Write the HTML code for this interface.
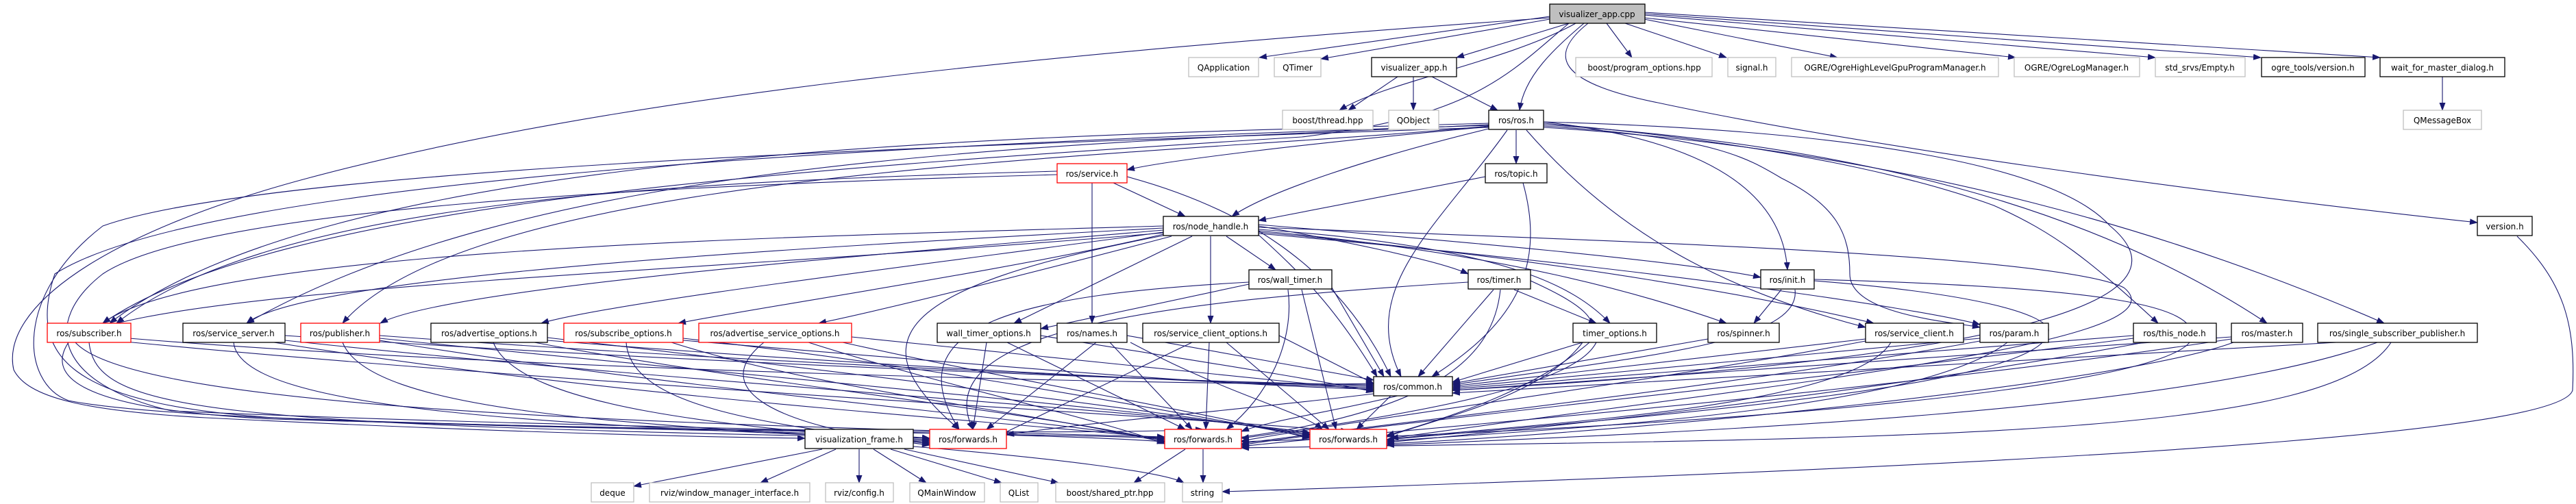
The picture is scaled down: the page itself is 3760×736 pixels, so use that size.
<!DOCTYPE html>
<html><head><meta charset="utf-8"><style>
html,body{margin:0;padding:0;background:#fff;}
svg{display:block;}
text{font-family:"DejaVu Sans","Liberation Sans",sans-serif;font-size:12px;fill:#000;text-anchor:middle;}
.e{fill:none;stroke:#191970;stroke-width:1.1;}
.b{fill:#fff;stroke:#000;stroke-width:1.3;}
.g{fill:#fff;stroke:#bfbfbf;stroke-width:1.3;}
.r{fill:#fff;stroke:#ff0000;stroke-width:1.3;}
</style></head><body>
<svg width="3760" height="736" viewBox="0 0 3760 736" xmlns="http://www.w3.org/2000/svg">
<defs><marker id="a" markerWidth="12" markerHeight="9" refX="11" refY="4.5" orient="auto" markerUnits="userSpaceOnUse"><polygon points="0,0 12,4.5 0,9" fill="#191970"/></marker></defs>
<g class="e" marker-end="url(#a)">
<!-- from visualizer_app.cpp -->
<path d="M2262,24 L1838,84"/>
<path d="M2262,28 L1928,86"/>
<path d="M2290,34 L2126,84"/>
<path d="M2300,34 C2200,90 2020,120 1955,161"/>
<path d="M2312,34 C2270,70 2225,110 2218,161"/>
<path d="M2345,34 L2382,84"/>
<path d="M2372,34 L2520,84"/>
<path d="M2400,28 L2682,84"/>
<path d="M2400,26 L2942,84"/>
<path d="M2400,22 L3146,84"/>
<path d="M2400,20 L3300,84"/>
<path d="M2400,18 L3474,84"/>
<path d="M2318,34 C2260,80 2270,120 2420,150 C2700,210 3200,280 3616,325"/>
<path d="M2262,26 C1500,80 900,140 450,260 C150,340 0,450 20,540 C40,580 120,600 300,610 C700,630 1000,638 1175,640"/>
<path d="M2290,34 C2200,110 2150,170 1900,200 C1100,250 400,300 150,472"/>
<!-- visualizer_app.h -->
<path d="M2040,112 L1968,161"/>
<path d="M2063,112 L2063,161"/>
<path d="M2090,112 L2186,161"/>
<path d="M3565,112 L3565,161"/>
<!-- ros.h -->
<path d="M2213,190 L2213,239"/>
<path d="M2173,185 C1900,210 1700,235 1645,248"/>
<path d="M2173,188 C2000,230 1850,280 1798,316"/>
<path d="M2253,178 C2450,200 2600,260 2609,394"/>
<path d="M2200,190 C2100,330 1980,420 2045,550"/>
<path d="M2173,180 C1500,200 500,210 160,472"/>
<path d="M2173,182 C1600,210 800,220 360,472"/>
<path d="M2173,184 C1700,230 700,240 500,472"/>
<path d="M2228,190 C2350,330 2500,420 2723,478"/>
<path d="M2253,180 C2600,210 2800,260 2910,300 C3000,340 3050,380 3150,472"/>
<path d="M2253,182 C2700,210 3050,300 3309,472"/>
<path d="M2253,186 C2800,220 3200,350 3480,472"/>
<path d="M2253,184 C2500,200 2550,230 2600,260 C2680,300 2700,340 2700,400 C2700,460 2850,470 2890,478"/>
<path d="M2253,178 C2700,190 3000,240 3080,330 C3200,430 3000,520 2120,570"/>
<path d="M2173,186 C1500,210 400,240 150,330 C20,430 30,560 100,585 C300,625 1200,625 1357,640"/>
<path d="M2173,183 C1300,210 300,260 80,400 C40,520 100,590 400,610 C900,630 1500,632 1700,640"/>
<!-- service.h -->
<path d="M1594,267 L1594,472"/>
<path d="M1625,267 L1730,316"/>
<path d="M1645,258 C1800,300 1950,380 2030,550"/>
<path d="M1543,255 C1000,270 300,300 150,400 C60,470 80,560 250,600 C800,625 1500,630 1700,645"/>
<path d="M1543,250 C1000,265 400,290 170,472"/>
<!-- topic.h -->
<path d="M2168,258 L1837,322"/>
<path d="M2223,267 C2260,400 2200,480 2090,550"/>
<!-- node_handle -->
<path d="M1698,330 C1200,345 300,360 150,472"/>
<path d="M1698,333 C1200,360 450,400 360,472"/>
<path d="M1698,336 C1300,370 650,420 555,472"/>
<path d="M1698,339 C1400,380 900,440 790,472"/>
<path d="M1698,342 C1500,390 1100,450 990,472"/>
<path d="M1710,345 C1500,400 1300,450 1195,472"/>
<path d="M1740,345 L1480,472"/>
<path d="M1767,345 L1767,472"/>
<path d="M1790,345 L1862,394"/>
<path d="M1837,330 C1950,350 2100,380 2143,400"/>
<path d="M1837,328 C2100,350 2450,380 2570,405"/>
<path d="M1837,335 C2200,360 2300,420 2350,472"/>
<path d="M1837,337 C2200,370 2400,430 2520,472"/>
<path d="M1837,339 C2300,380 2600,440 2735,472"/>
<path d="M1837,341 C2400,390 2800,450 2890,474"/>
<path d="M1837,343 C1900,400 1950,450 2010,550"/>
<path d="M1837,332 C2300,350 3000,370 3100,420 C3200,500 2600,560 2030,640"/>
<path d="M1698,344 C1300,420 1250,500 1400,627"/>
<path d="M1698,340 C1000,400 200,420 100,500 C60,560 150,600 400,612 C1000,630 1600,635 1756,627"/>
<!-- wall_timer / timer / init -->
<path d="M1823,415 L1519,480"/>
<path d="M1823,412 C1500,430 1300,470 1400,627"/>
<path d="M1944,420 L2020,550"/>
<path d="M1880,423 C1890,500 1850,580 1790,627"/>
<path d="M1900,423 L1950,627"/>
<path d="M2210,423 L2330,472"/>
<path d="M2180,423 L2070,550"/>
<path d="M2143,412 C1700,440 1350,480 1420,627"/>
<path d="M2190,423 C2180,520 2100,600 1800,640"/>
<path d="M2234,410 C2300,440 2350,470 2310,500 C2250,580 2100,610 2024,638"/>
<path d="M2600,423 L2560,472"/>
<path d="M2620,423 C2630,500 2400,520 2120,562"/>
<path d="M2648,410 C2900,430 2980,460 2990,480 C3000,560 2500,600 2024,642"/>
<path d="M2648,408 C3100,420 3200,450 3200,490 C3200,560 2600,620 1812,645"/>
<!-- row7 -> common / forwards (left side) -->
<path d="M142,490 C700,540 1800,565 2005,560"/>
<path d="M130,500 C140,600 300,620 1357,640"/>
<path d="M110,500 C200,600 1000,620 1700,638"/>
<path d="M142,495 C800,560 1600,600 1968,630"/>
<path d="M416,490 C1000,530 1800,560 2005,562"/>
<path d="M341,500 C350,600 800,620 1357,642"/>
<path d="M400,500 C900,580 1400,610 1700,640"/>
<path d="M416,497 C1000,560 1700,600 1912,632"/>
<path d="M554,490 C1100,530 1800,560 2005,564"/>
<path d="M500,500 C540,600 900,620 1357,644"/>
<path d="M554,497 C1000,570 1500,610 1700,642"/>
<path d="M554,494 C1100,550 1700,600 1912,634"/>
<path d="M799,497 C1200,530 1800,562 2005,566"/>
<path d="M720,500 C760,600 1100,625 1357,646"/>
<path d="M780,500 C1100,560 1500,600 1700,644"/>
<path d="M799,493 C1200,540 1700,600 1912,636"/>
<path d="M997,497 C1400,530 1800,565 2005,568"/>
<path d="M914,500 C920,590 1100,620 1357,648"/>
<path d="M980,500 C1200,570 1500,600 1700,646"/>
<path d="M997,494 C1400,540 1700,600 1912,638"/>
<path d="M1243,492 C1600,530 1900,560 2005,570"/>
<path d="M1115,500 C1040,560 1100,620 1357,650"/>
<path d="M1180,500 C1400,570 1600,610 1700,648"/>
<path d="M1230,500 C1500,560 1750,600 1912,640"/>
<path d="M1519,490 C1700,520 1900,550 2005,572"/>
<path d="M1440,500 L1420,627"/>
<path d="M1470,500 L1730,627"/>
<path d="M1600,500 L1440,627"/>
<path d="M1645,490 L2005,555"/>
<path d="M1620,500 L1740,627"/>
<path d="M1650,500 C1800,580 1900,600 1930,627"/>
<path d="M1867,490 L2005,560"/>
<path d="M1740,500 L1460,635"/>
<path d="M1765,500 L1760,627"/>
<path d="M1790,500 L1940,627"/>
<!-- right side row7 -> common / forwards -->
<path d="M2310,500 L2120,558"/>
<path d="M2320,500 C2250,560 2150,600 2024,636"/>
<path d="M2330,500 C2300,560 2100,600 1812,640"/>
<path d="M2493,495 L2120,560"/>
<path d="M2723,495 L2120,564"/>
<path d="M2760,500 C2700,600 2200,620 2024,642"/>
<path d="M2723,498 C2400,560 2000,610 1812,644"/>
<path d="M2890,494 L2120,566"/>
<path d="M2930,500 C2800,600 2300,625 2024,644"/>
<path d="M2890,498 C2500,570 2000,620 1812,648"/>
<path d="M3114,490 L2120,568"/>
<path d="M3130,500 C2700,580 2200,630 2024,646"/>
<path d="M3114,494 C2600,560 2000,620 1812,650"/>
<path d="M3257,492 L2120,570"/>
<path d="M3260,500 C3100,560 2400,630 2024,648"/>
<path d="M3257,495 C2700,580 2000,630 1812,652"/>
<path d="M3410,500 L2120,574"/>
<path d="M3470,500 C3200,600 2500,630 2024,650"/>
<path d="M3490,500 C3400,640 2800,640 1812,654"/>
<!-- common -> forwards -->
<path d="M2030,578 L1980,627"/>
<path d="M2040,578 C1950,600 1850,615 1812,630"/>
<path d="M2005,575 C1800,600 1600,615 1469,635"/>
<!-- bottom -->
<path d="M1200,656 L925,710"/>
<path d="M1220,656 L1110,705"/>
<path d="M1254,656 L1254,705"/>
<path d="M1275,656 L1352,705"/>
<path d="M1300,656 L1462,705"/>
<path d="M1320,656 L1545,705"/>
<path d="M1333,652 C1550,670 1700,690 1728,705"/>
<path d="M1730,656 L1655,705"/>
<path d="M1756,656 L1756,705"/>
<path d="M3674,345 C3740,410 3760,470 3755,570 C3740,620 3300,670 1784,718"/>
</g>
<!-- nodes -->
<rect x="2262" y="6" width="139" height="28" fill="#bfbfbf" stroke="#000" stroke-width="1.3"/><text x="2331" y="25">visualizer_app.cpp</text>
<rect class="g" x="1735" y="84" width="102" height="28"/><text x="1786" y="103">QApplication</text>
<rect class="g" x="1860" y="84" width="68" height="28"/><text x="1894" y="103">QTimer</text>
<rect class="b" x="2002" y="84" width="124" height="28"/><text x="2064" y="103">visualizer_app.h</text>
<rect class="g" x="2300" y="84" width="199" height="28"/><text x="2400" y="103">boost/program_options.hpp</text>
<rect class="g" x="2522" y="84" width="70" height="28"/><text x="2557" y="103">signal.h</text>
<rect class="g" x="2615" y="84" width="302" height="28"/><text x="2766" y="103">OGRE/OgreHighLevelGpuProgramManager.h</text>
<rect class="g" x="2940" y="84" width="183" height="28"/><text x="3031" y="103">OGRE/OgreLogManager.h</text>
<rect class="g" x="3146" y="84" width="131" height="28"/><text x="3211" y="103">std_srvs/Empty.h</text>
<rect class="b" x="3301" y="84" width="151" height="28"/><text x="3376" y="103">ogre_tools/version.h</text>
<rect class="b" x="3474" y="84" width="182" height="28"/><text x="3565" y="103">wait_for_master_dialog.h</text>
<rect class="g" x="1872" y="161" width="132" height="28"/><text x="1938" y="180">boost/thread.hpp</text>
<rect class="g" x="2027" y="161" width="73" height="28"/><text x="2063" y="180">QObject</text>
<rect class="b" x="2173" y="161" width="80" height="28"/><text x="2213" y="180">ros/ros.h</text>
<rect class="g" x="3508" y="161" width="114" height="28"/><text x="3565" y="180">QMessageBox</text>
<rect class="r" x="1543" y="239" width="102" height="28"/><text x="1594" y="258">ros/service.h</text>
<rect class="b" x="2168" y="239" width="90" height="28"/><text x="2213" y="258">ros/topic.h</text>
<rect class="b" x="1698" y="316" width="139" height="28"/><text x="1767" y="335">ros/node_handle.h</text>
<rect class="b" x="3616" y="316" width="80" height="28"/><text x="3656" y="335">version.h</text>
<rect class="b" x="1823" y="394" width="121" height="28"/><text x="1883" y="413">ros/wall_timer.h</text>
<rect class="b" x="2143" y="394" width="91" height="28"/><text x="2188" y="413">ros/timer.h</text>
<rect class="b" x="2570" y="394" width="78" height="28"/><text x="2609" y="413">ros/init.h</text>
<rect class="r" x="69" y="472" width="122" height="28"/><text x="130" y="491">ros/subscriber.h</text>
<rect class="b" x="267" y="472" width="149" height="28"/><text x="341" y="491">ros/service_server.h</text>
<rect class="r" x="439" y="472" width="115" height="28"/><text x="496" y="491">ros/publisher.h</text>
<rect class="b" x="629" y="472" width="170" height="28"/><text x="714" y="491">ros/advertise_options.h</text>
<rect class="r" x="823" y="472" width="174" height="28"/><text x="910" y="491">ros/subscribe_options.h</text>
<rect class="r" x="1020" y="472" width="223" height="28"/><text x="1131" y="491">ros/advertise_service_options.h</text>
<rect class="b" x="1368" y="472" width="151" height="28"/><text x="1443" y="491">wall_timer_options.h</text>
<rect class="b" x="1543" y="472" width="102" height="28"/><text x="1594" y="491">ros/names.h</text>
<rect class="b" x="1668" y="472" width="199" height="28"/><text x="1767" y="491">ros/service_client_options.h</text>
<rect class="b" x="2296" y="472" width="122" height="28"/><text x="2357" y="491">timer_options.h</text>
<rect class="b" x="2493" y="472" width="104" height="28"/><text x="2545" y="491">ros/spinner.h</text>
<rect class="b" x="2723" y="472" width="143" height="28"/><text x="2794" y="491">ros/service_client.h</text>
<rect class="b" x="2890" y="472" width="100" height="28"/><text x="2940" y="491">ros/param.h</text>
<rect class="b" x="3114" y="472" width="121" height="28"/><text x="3174" y="491">ros/this_node.h</text>
<rect class="b" x="3257" y="472" width="104" height="28"/><text x="3309" y="491">ros/master.h</text>
<rect class="b" x="3383" y="472" width="233" height="28"/><text x="3499" y="491">ros/single_subscriber_publisher.h</text>
<rect class="b" x="2005" y="550" width="115" height="28"/><text x="2062" y="569">ros/common.h</text>
<rect class="b" x="1175" y="627" width="158" height="28"/><text x="1254" y="646">visualization_frame.h</text>
<rect class="r" x="1357" y="627" width="112" height="28"/><text x="1413" y="646">ros/forwards.h</text>
<rect class="r" x="1700" y="627" width="112" height="28"/><text x="1756" y="646">ros/forwards.h</text>
<rect class="r" x="1912" y="627" width="112" height="28"/><text x="1968" y="646">ros/forwards.h</text>
<rect class="g" x="863" y="705" width="62" height="28"/><text x="894" y="724">deque</text>
<rect class="g" x="948" y="705" width="234" height="28"/><text x="1065" y="724">rviz/window_manager_interface.h</text>
<rect class="g" x="1205" y="705" width="99" height="28"/><text x="1254" y="724">rviz/config.h</text>
<rect class="g" x="1328" y="705" width="109" height="28"/><text x="1382" y="724">QMainWindow</text>
<rect class="g" x="1460" y="705" width="55" height="28"/><text x="1487" y="724">QList</text>
<rect class="g" x="1541" y="705" width="159" height="28"/><text x="1620" y="724">boost/shared_ptr.hpp</text>
<rect class="g" x="1726" y="705" width="58" height="28"/><text x="1755" y="724">string</text>
</svg>
</body></html>
